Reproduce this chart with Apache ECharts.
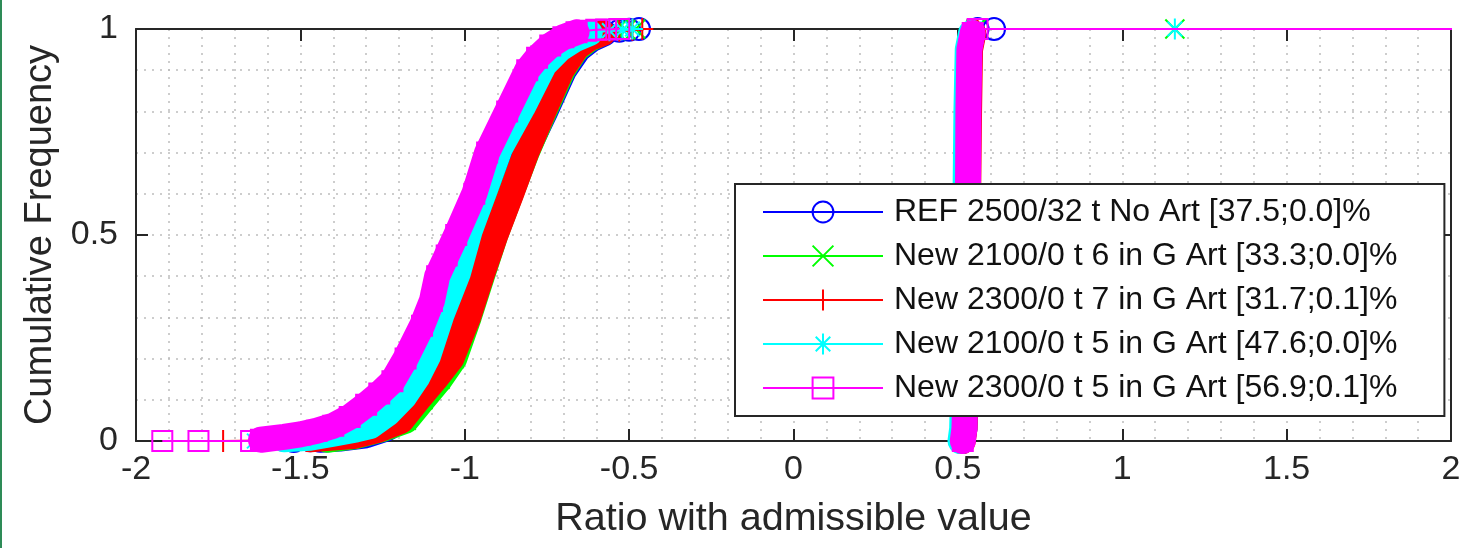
<!DOCTYPE html>
<html>
<head>
<meta charset="utf-8">
<script src="https://cdn.jsdelivr.net/npm/echarts@6/dist/echarts.min.js"></script>
<style>
  html, body { margin: 0; padding: 0; background: #fff; }
  #chart { position: absolute; left: 0; top: 0; width: 1464px; height: 548px; }
  #edge { position: absolute; left: 0; top: 0; width: 2px; height: 548px; background: #2e8b57; }
</style>
</head>
<body>
<div id="chart"></div>
<div id="edge"></div>
<script>
// legend labels
const names = [
  'REF 2500/32 t No Art [37.5;0.0]%',
  'New 2100/0 t 6 in G Art [33.3;0.0]%',
  'New 2300/0 t 7 in G Art [31.7;0.1]%',
  'New 2100/0 t 5 in G Art [47.6;0.0]%',
  'New 2300/0 t 5 in G Art [56.9;0.1]%'
]

// [ratio, cumulative frequency]
// REF
const refLowTail = [[-1.52, 0], [-1.47, 0.002]]
const refLow = [[-1.44, 0.003], [-1.38, 0.006], [-1.3, 0.014], [-1.24, 0.03], [-1.18, 0.055], [-1.13, 0.1], [-1.08, 0.15], [-1.037, 0.2], [-0.993, 0.3], [-0.954, 0.4], [-0.912, 0.5], [-0.865, 0.6], [-0.815, 0.7], [-0.755, 0.8], [-0.698, 0.9], [-0.655, 0.95], [-0.615, 0.975], [-0.575, 0.99]]
const refTopTail = [[-0.53, 0.996], [-0.5, 0.998], [-0.47, 1]]
const refUp = [[0.513, 0], [0.52, 0.03], [0.525, 0.2], [0.528, 0.5], [0.531, 0.8], [0.535, 0.95], [0.545, 0.99]]
const refUpTail = [[0.56, 1], [0.61, 1]]

// New 2100/0 t 6
const g6LowTail = [[-1.47, 0]]
const g6Low = [[-1.42, 0.003], [-1.33, 0.012], [-1.255, 0.028], [-1.178, 0.05], [-1.127, 0.1], [-1.075, 0.15], [-1.032, 0.2], [-0.988, 0.3], [-0.948, 0.4], [-0.907, 0.5], [-0.86, 0.6], [-0.812, 0.7], [-0.758, 0.8], [-0.702, 0.9], [-0.662, 0.95], [-0.622, 0.975], [-0.585, 0.99]]
const g6TopTail = [[-0.54, 0.996], [-0.51, 0.998], [-0.48, 1]]
const g6Up = [[0.512, 0], [0.518, 0.03], [0.523, 0.2], [0.527, 0.5], [0.53, 0.8], [0.534, 0.95], [0.545, 0.99]]
const g6UpTail = [[0.555, 1], [1.16, 1]]

// New 2300/0 t 7
const r7LowTail = [[-1.735, 0], [-1.56, 0.002]]
const r7Low = [[-1.47, 0.004], [-1.34, 0.012], [-1.264, 0.027], [-1.194, 0.049], [-1.143, 0.1], [-1.09, 0.15], [-1.041, 0.2], [-0.99, 0.3], [-0.95, 0.4], [-0.907, 0.5], [-0.859, 0.6], [-0.813, 0.7], [-0.761, 0.8], [-0.706, 0.9], [-0.66, 0.955], [-0.62, 0.978], [-0.58, 0.99]]
const r7TopTail = [[-0.53, 0.996], [-0.49, 0.998], [-0.46, 1]]
const r7Up = [[0.515, 0], [0.52, 0.03], [0.526, 0.2], [0.53, 0.5], [0.534, 0.8], [0.537, 0.95], [0.547, 0.99]]
const r7UpTail = [[0.56, 1]]

// New 2100/0 t 5
const c5LowTail = [[-1.64, 0], [-1.6, 0.002]]
const c5Low = [[-1.55, 0.004], [-1.47, 0.008], [-1.4, 0.018], [-1.33, 0.028], [-1.288, 0.036], [-1.234, 0.067], [-1.183, 0.109], [-1.145, 0.154], [-1.112, 0.206], [-1.071, 0.306], [-1.021, 0.407], [-0.985, 0.51], [-0.939, 0.61], [-0.893, 0.711], [-0.824, 0.81], [-0.758, 0.914], [-0.709, 0.953], [-0.665, 0.975], [-0.62, 0.99]]
const c5TopTail = [[-0.56, 0.996], [-0.52, 0.998], [-0.49, 1]]
const c5Up = [[0.508, 0], [0.513, 0.03], [0.518, 0.2], [0.522, 0.5], [0.526, 0.8], [0.53, 0.95], [0.54, 0.99]]
const c5UpTail = [[0.55, 1], [1.16, 1]]

// New 2300/0 t 5
const m5LowTail = [[-1.92, 0], [-1.81, 0], [-1.65, 0]]
const m5Low = [[-1.62, 0.003], [-1.55, 0.01], [-1.5, 0.016], [-1.45, 0.025], [-1.4, 0.037], [-1.35, 0.058], [-1.3, 0.088], [-1.26, 0.115], [-1.22, 0.145], [-1.18, 0.2], [-1.13, 0.28], [-1.1, 0.34], [-1.084, 0.4], [-1.055, 0.45], [-1.026, 0.5], [-0.971, 0.6], [-0.932, 0.7], [-0.871, 0.8], [-0.81, 0.9], [-0.78, 0.93], [-0.74, 0.96], [-0.7, 0.98], [-0.66, 0.992]]
const m5TopTail = [[-0.63, 0.996], [-0.6, 0.998], [-0.57, 0.999], [-0.53, 1]]
const m5Up = [[0.515, 0], [0.52, 0.03], [0.525, 0.2], [0.53, 0.5], [0.532, 0.8], [0.535, 0.95], [0.545, 0.99]]
const m5UpTail = [[0.56, 1], [2.3, 1]]

const xTicks = [-2, -1.5, -1, -0.5, 0, 0.5, 1, 1.5, 2]
const yTicks = [0, 0.5, 1]

const curves = [
  { name: names[0], color: '#0000ff', symbol: 'circle', size: 22, lowTail: refLowTail, low: refLow, topTail: refTopTail, up: refUp, upTail: refUpTail },
  { name: names[1], color: '#00ff00', symbol: 'path://M0,0L10,10M10,0L0,10', size: 19, lowTail: g6LowTail, low: g6Low, topTail: g6TopTail, up: g6Up, upTail: g6UpTail },
  { name: names[2], color: '#ff0000', symbol: 'path://M5,0L5,10M0,5L10,5', size: 22, lowTail: r7LowTail, low: r7Low, topTail: r7TopTail, up: r7Up, upTail: r7UpTail },
  { name: names[3], color: '#00ffff', symbol: 'path://M5,0L5,10M0,5L10,5M1.5,1.5L8.5,8.5M8.5,1.5L1.5,8.5', size: 21, lowTail: c5LowTail, low: c5Low, topTail: c5TopTail, up: c5Up, upTail: c5UpTail },
  { name: names[4], color: '#ff00ff', symbol: 'rect', size: 20, lowTail: m5LowTail, low: m5Low, topTail: m5TopTail, up: m5Up, upTail: m5UpTail }
]

const font = '"Liberation Sans", Arial, Helvetica, sans-serif'
const axisColor = '#262626'
const gridDots = { color: '#bdbdbd', width: 1.5, type: [2, 6] }

function markerSeries(c, data, named, z) {
  return {
    name: named ? c.name : undefined,
    type: 'line',
    z: z,
    data: data,
    symbol: c.symbol,
    symbolSize: c.size,
    showAllSymbol: true,
    itemStyle: { color: 'rgba(0,0,0,0)', borderColor: c.color, borderWidth: 2 },
    lineStyle: { color: c.color, width: 2 },
    silent: true,
    animation: false
  }
}

function bandSeries(c, data, z) {
  return {
    type: 'line',
    z: z,
    data: data,
    showSymbol: false,
    symbol: 'none',
    lineStyle: { color: c.color, width: 26, cap: 'round', join: 'round' },
    silent: true,
    animation: false
  }
}

// each series gets its own z so that later curves cover earlier ones completely
const series = []
curves.forEach(function (c) {
  series.push(markerSeries(c, c.lowTail.concat(c.low, c.topTail), true, 3 + series.length))
  series.push(bandSeries(c, c.low, 3 + series.length))
  series.push(markerSeries(c, c.up.concat(c.upTail), false, 3 + series.length))
  series.push(bandSeries(c, c.up, 3 + series.length))
})

const chart = echarts.init(document.getElementById('chart'))
chart.setOption({
  animation: false,
  textStyle: { fontFamily: font },
  grid: { left: 136, right: 13, top: 29, bottom: 107 },
  legend: {
    z: 100,
    left: 735,
    top: 184,
    orient: 'vertical',
    selectedMode: false,
    itemWidth: 120,
    itemHeight: 26,
    itemGap: 12,
    padding: [12, 47, 12, 27],
    backgroundColor: '#fff',
    borderColor: axisColor,
    borderWidth: 2,
    borderRadius: 0,
    textStyle: { fontSize: 32, color: '#111', fontFamily: font, lineHeight: 32, padding: [0, 0, 0, 6] },
    data: curves.map(function (c) {
      return {
        name: c.name,
        itemStyle: { color: 'rgba(0,0,0,0)', borderColor: c.color, borderWidth: 2 },
        lineStyle: { color: c.color, width: 2 }
      }
    })
  },
  xAxis: [
    {
      type: 'value', min: xTicks[0], max: xTicks[xTicks.length - 1], interval: 0.5,
      name: 'Ratio with admissible value', nameLocation: 'middle', nameGap: 58,
      nameTextStyle: { fontSize: 39.5, color: axisColor, fontFamily: font },
      axisLine: { show: true, onZero: false, lineStyle: { color: axisColor, width: 2 } },
      axisTick: { show: true, inside: true, length: 12, lineStyle: { color: axisColor, width: 2 } },
      axisLabel: { fontSize: 34, color: axisColor, margin: 12, fontFamily: font },
      splitLine: { show: true, lineStyle: gridDots },
      minorTick: { show: false, splitNumber: 5 },
      minorSplitLine: { show: true, lineStyle: gridDots }
    },
    {
      type: 'value', position: 'top', min: xTicks[0], max: xTicks[xTicks.length - 1], interval: 0.5,
      axisLine: { show: true, onZero: false, lineStyle: { color: axisColor, width: 2 } },
      axisTick: { show: true, inside: true, length: 12, lineStyle: { color: axisColor, width: 2 } },
      axisLabel: { show: false },
      splitLine: { show: false }
    }
  ],
  yAxis: [
    {
      type: 'value', min: yTicks[0], max: yTicks[yTicks.length - 1], interval: 0.5,
      name: 'Cumulative Frequency', nameLocation: 'middle', nameGap: 72,
      nameTextStyle: { fontSize: 38, color: axisColor, fontFamily: font },
      axisLine: { show: true, onZero: false, lineStyle: { color: axisColor, width: 2 } },
      axisTick: { show: true, inside: true, length: 12, lineStyle: { color: axisColor, width: 2 } },
      axisLabel: { fontSize: 34, color: axisColor, margin: 18, fontFamily: font },
      splitLine: { show: true, lineStyle: gridDots },
      minorTick: { show: false, splitNumber: 5 },
      minorSplitLine: { show: true, lineStyle: gridDots }
    },
    {
      type: 'value', position: 'right', min: yTicks[0], max: yTicks[yTicks.length - 1], interval: 0.5,
      axisLine: { show: true, onZero: false, lineStyle: { color: axisColor, width: 2 } },
      axisTick: { show: true, inside: true, length: 12, lineStyle: { color: axisColor, width: 2 } },
      axisLabel: { show: false },
      splitLine: { show: false }
    }
  ],
  series: series
})
</script>
</body>
</html>
